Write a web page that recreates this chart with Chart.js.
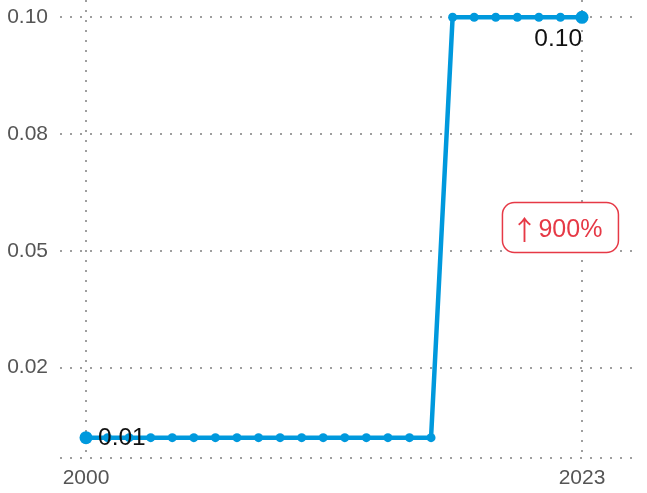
<!DOCTYPE html>
<html><head><meta charset="utf-8">
<script src="https://cdn.jsdelivr.net/npm/chart.js@4.4.1/dist/chart.umd.min.js"></script>
<style>html,body{margin:0;padding:0;background:#fff}#wrap{width:647px;height:493px;position:relative}</style>
</head><body><div id="wrap"><canvas id="c"></canvas></div>
<script>
const years = [2000,2001,2002,2003,2004,2005,2006,2007,2008,2009,2010,2011,2012,2013,2014,2015,2016,2017,2018,2019,2020,2021,2022,2023];
const values = [0.01,0.01,0.01,0.01,0.01,0.01,0.01,0.01,0.01,0.01,0.01,0.01,0.01,0.01,0.01,0.01,0.01,0.10,0.10,0.10,0.10,0.10,0.10,0.10];
const yTickValues = [0.025, 0.05, 0.075, 0.10];
const yTickLabels = ["0.02", "0.05", "0.08", "0.10"];
const xTickValues = [2000, 2023];
const xTickLabels = ["2000", "2023"];
const firstValueLabel = "0.01";
const lastValueLabel = "0.10";
const changeArrow = "\u2191";
const changeText = "900%";

const BLUE = '#0099dd';
const RED = '#e63946';
const GRID = '#9e9e9e';
const FONT = '"Liberation Sans", Arial, sans-serif';

const annotate = {
  id: 'annotate',
  afterDatasetsDraw(chart) {
    const ctx = chart.ctx, xs = chart.scales.x, ys = chart.scales.y;
    const n = years.length;
    const fx = xs.getPixelForValue(years[0]), fy = ys.getPixelForValue(values[0]);
    const lx = xs.getPixelForValue(years[n-1]), ly = ys.getPixelForValue(values[n-1]);
    ctx.save();
    ctx.fillStyle = '#111';
    ctx.font = '24.5px ' + FONT;
    ctx.textBaseline = 'middle';
    ctx.textAlign = 'left';
    ctx.fillText(firstValueLabel, fx + 12, fy + 1);
    ctx.textAlign = 'right';
    ctx.fillText(lastValueLabel, lx, ly + 22);
    // change badge
    const cx = xs.getPixelForValue(2022);
    const cy = ys.getPixelForValue((values[0] + values[n-1]) / 2);
    const bw = 116, bh = 50;
    ctx.beginPath();
    ctx.roundRect(cx - bw/2, cy - bh/2, bw, bh, 12);
    ctx.fillStyle = '#fff';
    ctx.fill();
    ctx.lineWidth = 1.5;
    ctx.strokeStyle = RED;
    ctx.stroke();
    ctx.fillStyle = RED;
    ctx.textBaseline = 'middle';
    ctx.textAlign = 'center';
    ctx.font = '27px "Noto Sans CJK JP", ' + FONT;
    ctx.fillText(changeArrow, cx - 36, cy + 2);
    ctx.textBaseline = 'alphabetic';
    ctx.textAlign = 'left';
    ctx.font = '25px ' + FONT;
    ctx.fillText(changeText, cx - 22, cy + 9.5);
    ctx.restore();
  }
};

new Chart(document.getElementById('c'), {
  type: 'line',
  data: {
    datasets: [{
      data: years.map((y, i) => ({x: y, y: values[i]})),
      borderColor: BLUE,
      backgroundColor: BLUE,
      borderWidth: 4.5,
      tension: 0,
      pointRadius: (c) => (c.dataIndex === 0 || c.dataIndex === years.length - 1) ? 6.5 : 4.5,
      pointBorderWidth: 0,
      pointBackgroundColor: BLUE,
      clip: false
    }]
  },
  options: {
    responsive: true,
    maintainAspectRatio: false,
    animation: false,
    layout: { autoPadding: false, padding: { left: 0, right: 8, top: 0, bottom: 0 } },
    plugins: { legend: { display: false }, tooltip: { enabled: false } },
    scales: {
      x: {
        type: 'linear',
        min: 1998.794,
        max: 2025.643,
        afterBuildTicks: (s) => { s.ticks = xTickValues.map(v => ({value: v})); },
        afterFit: (s) => { s.height = 35; s.paddingLeft = 0; s.paddingRight = 0; },
        ticks: {
          padding: 8,
          autoSkip: false,
          maxRotation: 0,
          color: '#555',
          font: { family: FONT, size: 21 },
          callback: (v) => { const i = xTickValues.indexOf(v); return i >= 0 ? xTickLabels[i] : ''; }
        },
        grid: { color: GRID, lineWidth: 2, drawTicks: false },
        border: { display: false, dash: [2, 8] }
      },
      y: {
        min: 0.005652,
        max: 0.1037,
        afterBuildTicks: (s) => { s.ticks = [{value: s.min}].concat(yTickValues.map(v => ({value: v}))); },
        afterFit: (s) => { s.width = 60; s.paddingTop = 0; s.paddingBottom = 0; },
        ticks: {
          padding: 12,
          color: '#555',
          font: { family: FONT, size: 21 },
          callback: (v) => { const i = yTickValues.indexOf(v); return i >= 0 ? yTickLabels[i] : ''; }
        },
        grid: { color: GRID, lineWidth: 2, drawTicks: false },
        border: { display: false, dash: [2, 8] }
      }
    }
  },
  plugins: [annotate]
});
</script>
</body></html>
